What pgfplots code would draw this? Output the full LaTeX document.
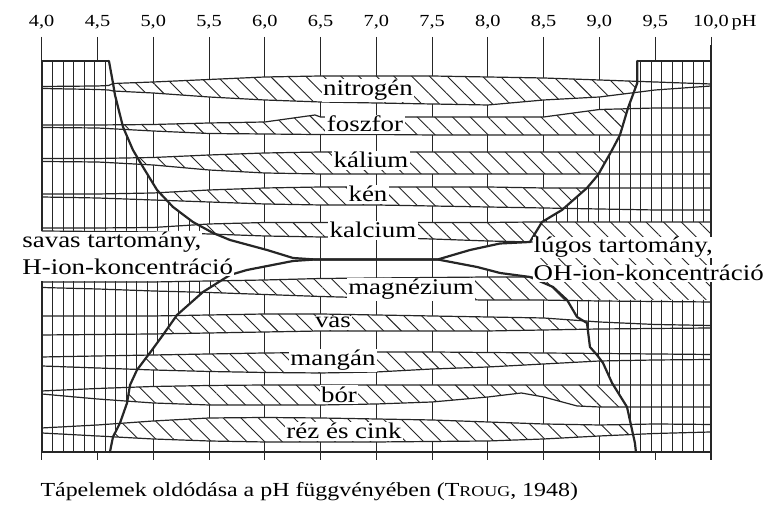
\documentclass[border=0pt]{standalone}
\usepackage{fontspec}
\setmainfont{Liberation Serif}[FakeStretch=1.2]
\usepackage{pgfplots}
\pgfplotsset{compat=1.18}
\usepackage{pgfplotstable}
\usepgfplotslibrary{fillbetween}
\usetikzlibrary{patterns.meta}

\definecolor{ink}{gray}{0.15}

% band edges (y = distance from the top of the figure, in px)
\pgfplotstableread{
ph   top   bot
4.0  86.5  88.5
4.5  86    89.5
4.6  85.5  90
4.64 83.5  91
5.0  82    93
5.5  79.5  97
6.0  77    100
6.5  76    102
7.0  76    103
7.5  76    104
8.0  77    105
8.5  78    100
9.0  80    97
9.5  82    90
10.0 84    86
}\nitrogen
\pgfplotstableread{
ph   top   bot
4.0  125   127.5
4.5  125   128
5.0  124.5 131
5.5  123   133.5
6.0  122   134
6.45 115   134.5
6.5  117   134.5
7.0  117   134.5
7.5  117   135
8.0  117   135
8.5  117   135
9.0  109.5 135
9.5  108   135
10.0 108   135
}\foszfor
\pgfplotstableread{
ph   top   bot
4.0  158.5 161.5
4.5  158.5 162
5.0  157.5 165
5.5  155   170
6.0  153   173
6.5  152   174
7.0  152   174
8.0  152   174
9.0  152   174
10.0 152   174
}\kalium
\pgfplotstableread{
ph   top   bot
4.0  194   197
4.5  194   198
5.0  193   200
5.5  190   202
6.0  188   204
6.5  187   205
7.0  187   205
7.5  187   206
8.0  187   207
8.5  188   208
9.0  188   209
9.5  188   210
10.0 188   210
}\ken
\pgfplotstableread{
ph   top   bot
4.0  228   231
4.5  228   231.5
5.0  227.5 232
5.5  224   234
6.0  222.5 236
6.5  222.5 237
7.0  222.5 237.5
7.5  222.5 239
8.0  222.5 241
8.4  222   242
8.45 222   259
9.0  222   259
9.5  222   259
10.0 222   259
}\kalcium
\pgfplotstableread{
ph   top   bot
4.0  282   287.5
4.5  282   289
5.0  282   291
5.5  281   292.5
6.0  280   294.5
6.5  278.5 296.5
7.0  278   298
7.5  277.5 299.5
8.0  277   300
8.4  277   300
8.45 259   300
9.0  259   301
9.5  259   301.5
10.0 259   302
}\magnezium
\pgfplotstableread{
ph   top   bot
4.0  316   335
4.5  316   334.5
5.0  316   334
5.5  315   333
6.0  314   332
6.5  314   331
7.0  315   331
7.5  316   331
8.0  317   331
8.5  318   330
9.0  322   329
9.5  324.5 328.5
10.0 325.5 328
}\vas
\pgfplotstableread{
ph   top   bot
4.0  357   366
4.5  356   368
5.0  355   370
5.5  354   371.5
6.0  353   372.5
6.5  352.5 373
7.0  352   372
7.5  352   369
8.0  352.5 367
8.5  353   364
9.0  353.5 361
9.5  354   360
10.0 354.5 359.5
}\mangan
\pgfplotstableread{
ph   top   bot
4.0  391   394
4.5  388.5 399
5.0  386.5 403
5.5  385.5 405
6.0  385   405
6.5  385   405
7.0  385   404
7.5  385   402
8.0  385   397
8.3  385   393
8.5  385   397
8.8  385   406
9.0  385   407
9.5  385   407
10.0 385   407
}\bor
\pgfplotstableread{
ph   top   bot
4.0  428   433
4.5  425   436
5.0  421   439
5.5  418   441
6.0  417.5 442
6.5  418   442
7.0  419   442
7.5  420   441.5
8.0  422   441
8.5  424   439
9.0  425   436
9.5  424   433.5
10.0 424.5 432
}\rez

\pgfplotsset{
  edge/.style={ink, line width=1.2bp},
  curve/.style={ink, line width=2.2bp, line join=round, line cap=round},
  hatchD/.style={pattern={Lines[angle=-45,distance=12.5bp,line width=0.9bp]}, pattern color=ink},
  hatchV/.style={pattern={Lines[angle=90,distance=10.5bp,line width=0.9bp]}, pattern color=ink},
}
\tikzset{
  lab/.style={anchor=base, fill=white, inner sep=1.5bp, font=\fontsize{22.5}{24}\selectfont},
}

\newcommand\band[2]{%
  \addplot[name path=#2T, draw=none] table[x=ph,y=top]{#1};
  \addplot[name path=#2B, draw=none] table[x=ph,y=bot]{#1};
  \addplot[draw=none, fill=white] fill between[of=#2T and #2B];
  \addplot[draw=none, hatchD] fill between[of=#2T and #2B];
}

\begin{document}
\begin{tikzpicture}
\begin{axis}[
  x=111.55bp, y=1bp, y dir=reverse,
  xmin=4, xmax=10, ymin=37, ymax=460,
  clip=false,
  axis line style={draw=none},
  ytick=\empty,
  xtick={4,4.5,5,5.5,6,6.5,7,7.5,8,8.5,9,9.5,10},
  xticklabels={{4,0},{4,5},{5,0},{5,5},{6,0},{6,5},{7,0},{7,5},{8,0},{8,5},{9,0},{9,5},{10,0\rlap{\,pH}}},
  xticklabel pos=upper,
  major tick length=0pt,
  xticklabel style={font=\fontsize{17}{17}\selectfont, anchor=base, yshift=10bp},
  xmajorgrids,
  grid style={ink, line width=0.9bp},
]
\coordinate (bbA) at (axis cs:3.6262,0);
\coordinate (bbB) at (axis cs:10.6007,513);

% acid (left) and alkaline (right) regions
\addplot[draw=none, hatchV, preaction={fill=white}] coordinates {
 (4,61)(4.603,61)(4.639,83)(4.657,95)(4.729,127)(4.818,150)(4.908,167)
 (5.034,190)(5.177,207)(5.356,222)(5.536,233)(4,233)} -- cycle;
\addplot[draw=none, hatchV, preaction={fill=white}] coordinates {
 (4,281)(5.60,281)(5.446,292)(5.213,315)(5.087,335)(4.989,350)(4.854,370)
 (4.792,385)(4.765,403)(4.702,423)(4.639,437)(4.612,452)(4,452)} -- cycle;
\addplot[draw=none, hatchV, preaction={fill=white}] coordinates {
 (10,61)(9.339,61)(9.339,83)(9.256,108)(9.184,135)(9.113,150)(8.987,175)
 (8.888,188)(8.664,210)(8.485,222)(10,222)} -- cycle;
\addplot[draw=none, hatchV, preaction={fill=white}] coordinates {
 (10,300)(8.710,300)(8.799,317)(8.888,323)(8.915,347)(8.978,355)(9.032,363)
 (9.113,383)(9.247,407)(9.318,443)(9.327,452)(10,452)} -- cycle;
% white wedges between the curves
\addplot[draw=none, fill=white] coordinates {
 (3.95,231)(5.45,231)(5.536,233)(5.688,240)(6.020,250)(6.253,258)(6.45,259.5)
 (6.253,261)(5.840,270)(5.688,275)(5.60,281)(3.95,281)} -- cycle;
\addplot[draw=none, fill=white] coordinates {
 (7.55,259.5)(7.840,250)(8.109,243.5)(8.377,242)(8.40,242)(8.40,277)
 (8.377,277)(8.109,273)(7.903,267)} -- cycle;

% nutrient bands
\band{\nitrogen}{n}
\band{\foszfor}{p}
\band{\kalium}{k}
\band{\ken}{s}
\band{\kalcium}{ca}
\band{\magnezium}{mg}
\band{\vas}{fe}
\band{\mangan}{mn}
\band{\bor}{b}
\band{\rez}{cu}

\addplot[edge] table[x=ph,y=top]{\nitrogen};
\addplot[edge] table[x=ph,y=bot]{\nitrogen};
\addplot[edge] table[x=ph,y=top]{\foszfor};
\addplot[edge] table[x=ph,y=bot]{\foszfor};
\addplot[edge] table[x=ph,y=top]{\kalium};
\addplot[edge] table[x=ph,y=bot]{\kalium};
\addplot[edge] table[x=ph,y=top]{\ken};
\addplot[edge] table[x=ph,y=bot]{\ken};
\addplot[edge] table[x=ph,y=top]{\kalcium};
\addplot[edge, restrict x to domain=4:8.4] table[x=ph,y=bot]{\kalcium};
\addplot[edge, restrict x to domain=4:8.4] table[x=ph,y=top]{\magnezium};
\addplot[edge] table[x=ph,y=bot]{\magnezium};
\addplot[edge] table[x=ph,y=top]{\vas};
\addplot[edge] table[x=ph,y=bot]{\vas};
\addplot[edge] table[x=ph,y=top]{\mangan};
\addplot[edge] table[x=ph,y=bot]{\mangan};
\addplot[edge] table[x=ph,y=top]{\bor};
\addplot[edge] table[x=ph,y=bot]{\bor};
\addplot[edge] table[x=ph,y=top]{\rez};
\addplot[edge] table[x=ph,y=bot]{\rez};

% frame and block edges
\addplot[edge] coordinates {(4,37)(4,231)};
\addplot[edge] coordinates {(4,281)(4,460)};
\addplot[edge] coordinates {(10,45)(10,460)};
\addplot[edge] coordinates {(4,61)(4.603,61)};
\addplot[edge] coordinates {(9.339,61)(10,61)};
\addplot[edge] coordinates {(4,452)(10,452)};

% H-ion and OH-ion boundaries
\addplot[curve] coordinates {
 (4.603,61)(4.639,83)(4.657,95)(4.729,127)(4.818,150)(4.908,167)(5.034,190)
 (5.177,207)(5.356,222)(5.536,233)(5.688,240)(6.020,250)(6.253,258)(6.45,259.5)
 (7.55,259.5)(7.840,250)(8.109,243.5)(8.377,242)(8.485,222)(8.664,210)
 (8.888,188)(8.987,175)(9.113,150)(9.184,135)(9.256,108)(9.339,83)(9.339,61)};
\addplot[curve] coordinates {
 (4.612,452)(4.639,437)(4.702,423)(4.765,403)(4.792,385)(4.854,370)(4.989,350)
 (5.087,335)(5.213,315)(5.446,292)(5.688,275)(5.840,270)(6.253,261)(6.45,259.5)
 (7.55,259.5)(7.903,267)(8.109,273)(8.377,277)(8.584,287)(8.710,300)(8.799,317)
 (8.888,323)(8.915,347)(8.978,355)(9.032,363)(9.113,383)(9.247,407)(9.318,443)(9.327,452)};

% labels
\node[lab] at (axis cs:6.925,96) {nitrogén};
\node[lab] at (axis cs:6.898,132) {foszfor};
\node[lab] at (axis cs:6.952,168) {kálium};
\node[lab] at (axis cs:6.925,202) {kén};
\node[lab] at (axis cs:6.970,238) {kalcium};
\node[lab] at (axis cs:7.311,295) {magnézium};
\node[lab] at (axis cs:6.611,328) {vas};
\node[lab] at (axis cs:6.611,366) {mangán};
\node[lab] at (axis cs:6.665,402.5) {bór};
\node[lab] at (axis cs:6.710,439) {réz és cink};

\node[lab, anchor=base west, inner sep=0.5bp] at (axis cs:3.8208,248) {savas tartomány,};
\node[lab, anchor=base west, inner sep=0.5bp] at (axis cs:3.8208,275) {H-ion-koncentráció};
\node[lab, anchor=base west, inner sep=0.5bp] at (axis cs:8.404,253) {lúgos tartomány,};
\node[lab, anchor=base west, inner sep=0.5bp] at (axis cs:8.404,281) {OH-ion-koncentráció};

\node[anchor=base west, font=\fontsize{20}{22}\selectfont] at (axis cs:3.958,497)
  {Tápelemek oldódása a pH függvényében (T{\fontsize{15}{15}\selectfont ROUG}, 1948)};
\end{axis}
\pgfresetboundingbox
\path[use as bounding box] (bbA) rectangle (bbB);
\end{tikzpicture}
\end{document}
